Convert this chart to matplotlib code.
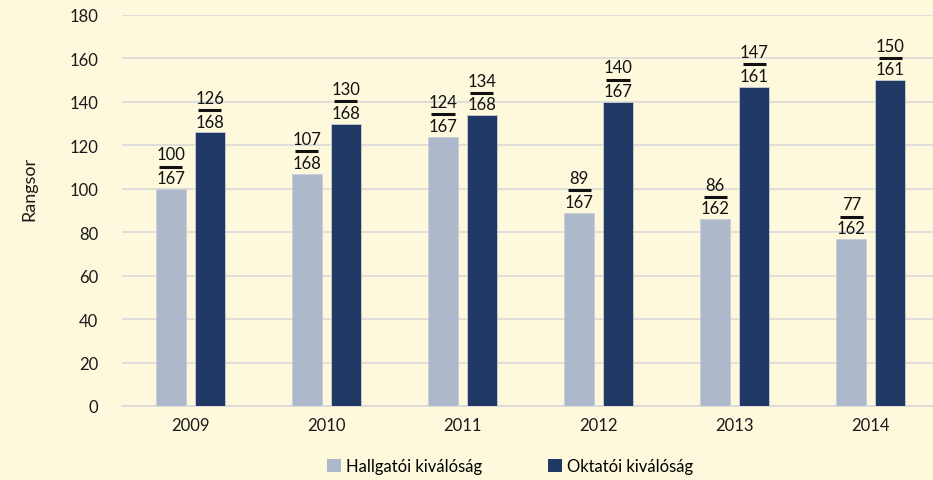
import matplotlib
matplotlib.use("Agg")
import matplotlib.pyplot as plt
import numpy as np
from matplotlib.transforms import offset_copy
from matplotlib.lines import Line2D
from matplotlib.patches import Patch

years = ["2009", "2010", "2011", "2012", "2013", "2014"]
hallgatoi = [100, 107, 124, 89, 86, 77]
hallgatoi_total = [167, 168, 167, 167, 162, 162]
oktatoi = [126, 130, 134, 140, 147, 150]
oktatoi_total = [168, 168, 168, 167, 161, 161]

BG = "#FEF9DC"
LIGHT = "#ADB9CA"
DARK = "#203864"
GRID = "#D9D9D9"
FONT = ["Lato", "DejaVu Sans"]

plt.rcParams["font.family"] = FONT

W, H = 933, 481
fig = plt.figure(figsize=(W / 100, H / 100), dpi=100, facecolor=BG)
ax = fig.add_axes([122 / W, 74 / H, 817 / W, 391 / H], facecolor=BG)

x = np.arange(len(years))
bw = 0.22
off = 0.143
b1 = ax.bar(x - off, hallgatoi, bw, color=LIGHT, edgecolor="#C9CFD8", linewidth=0.6,
            label="Hallgatói kiválóság", zorder=3)
b2 = ax.bar(x + off, oktatoi, bw, color=DARK, edgecolor="#C9CFD8", linewidth=0.6,
            label="Oktatói kiválóság", zorder=3)

ax.set_ylim(0, 180)
ax.set_xlim(-0.5, len(years) - 0.5)
ax.set_yticks(np.arange(0, 181, 20))
ax.set_xticks(x)
ax.set_xticklabels(years)
ax.grid(axis="y", color=GRID, linewidth=1.2, zorder=0)
for s in ["top", "right", "left"]:
    ax.spines[s].set_visible(False)
ax.spines["bottom"].set_color(GRID)
ax.spines["bottom"].set_linewidth(1.2)
ax.tick_params(axis="both", length=0, labelsize=12, colors="#1a1a1a")
ax.tick_params(axis="y", pad=17)
ax.tick_params(axis="x", pad=8)
ax.set_ylabel("Rangsor", fontsize=13, color="#1a1a1a")
ax.yaxis.set_label_coords(-0.104, 0.557)


def label(xpos, val, tot):
    ax.annotate(str(tot), (xpos, val), xytext=(0, 2), textcoords="offset points",
                ha="center", va="bottom", fontsize=12, color="#111111", zorder=4)
    ax.annotate(str(val), (xpos, val), xytext=(0, 19), textcoords="offset points",
                ha="center", va="bottom", fontsize=12, color="#111111", zorder=4)
    tr = offset_copy(ax.transData, fig=fig, x=0, y=16, units="points")
    ln = Line2D([xpos - 0.085, xpos + 0.085], [val, val], transform=tr,
                color="#111111", linewidth=2.2, solid_capstyle="butt", zorder=4)
    ax.add_line(ln)


for i in range(len(years)):
    label(x[i] - off, hallgatoi[i], hallgatoi_total[i])
    label(x[i] + off, oktatoi[i], oktatoi_total[i])

handles = [Patch(facecolor=LIGHT, edgecolor="none"), Patch(facecolor=DARK, edgecolor="none")]
fig.legend(handles, ["Hallgatói kiválóság", "Oktatói kiválóság"], loc="center",
           bbox_to_anchor=(510 / W, 1 - 467 / H), ncol=2, frameon=False, fontsize=12,
           handlelength=0.8, handleheight=0.8, handletextpad=0.3, columnspacing=4.0)

fig.savefig("out.png", dpi=100, facecolor=BG)
